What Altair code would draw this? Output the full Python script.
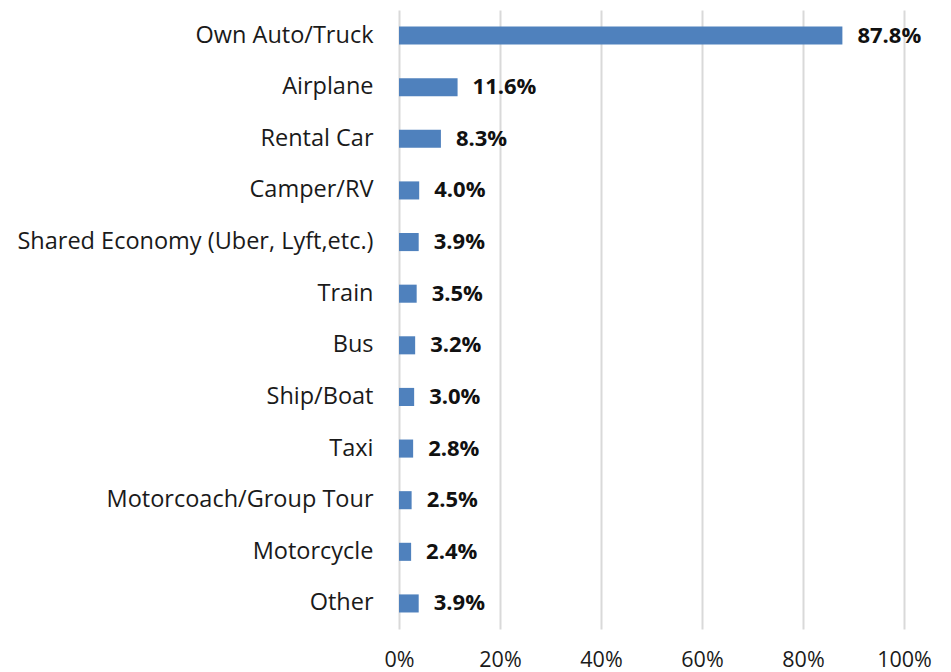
import altair as alt
import pandas as pd

categories = ["Own Auto/Truck", "Airplane", "Rental Car", "Camper/RV",
              "Shared Economy (Uber, Lyft,etc.)", "Train", "Bus", "Ship/Boat",
              "Taxi", "Motorcoach/Group Tour", "Motorcycle", "Other"]
values = [87.8, 11.6, 8.3, 4.0, 3.9, 3.5, 3.2, 3.0, 2.8, 2.5, 2.4, 3.9]
x_ticks = [0, 20, 40, 60, 80, 100]

df = pd.DataFrame({"mode": categories, "pct": values})
df["label"] = [f"{v:.1f}%" for v in values]

FONT = "Open Sans"

y = alt.Y("mode:N", sort=categories, title=None,
          scale=alt.Scale(paddingInner=0.65, paddingOuter=0.32),
          axis=alt.Axis(domain=False, ticks=False, labelFont=FONT, labelFontSize=23.5,
                        labelColor="#1a1a1a", labelPadding=26, labelLimit=400))
x = alt.X("pct:Q", title=None,
          scale=alt.Scale(domain=[0, 100], nice=False),
          axis=alt.Axis(values=x_ticks, labelExpr="datum.value + '%'", domain=False, ticks=False,
                        grid=True, gridColor="#d9d9d9", gridWidth=2, labelFlush=False,
                        labelFont=FONT, labelFontSize=21.5, labelColor="#1a1a1a",
                        labelPadding=20))

bars = alt.Chart(df).mark_bar(color="#4F81BD").encode(x=x, y=y)
text = alt.Chart(df).mark_text(align="left", dx=15, font=FONT, fontSize=22,
                               fontWeight="bold", color="#111111").encode(
    x="pct:Q", y=alt.Y("mode:N", sort=categories), text="label:N")

chart = (bars + text).properties(
    width=505, height=619,
    autosize=alt.AutoSizeParams(type="none"),
    padding={"left": 399, "top": 10, "right": 47, "bottom": 43},
).configure_view(stroke=None)

chart.save("out.html", embed_options={"renderer": "svg", "actions": False})
